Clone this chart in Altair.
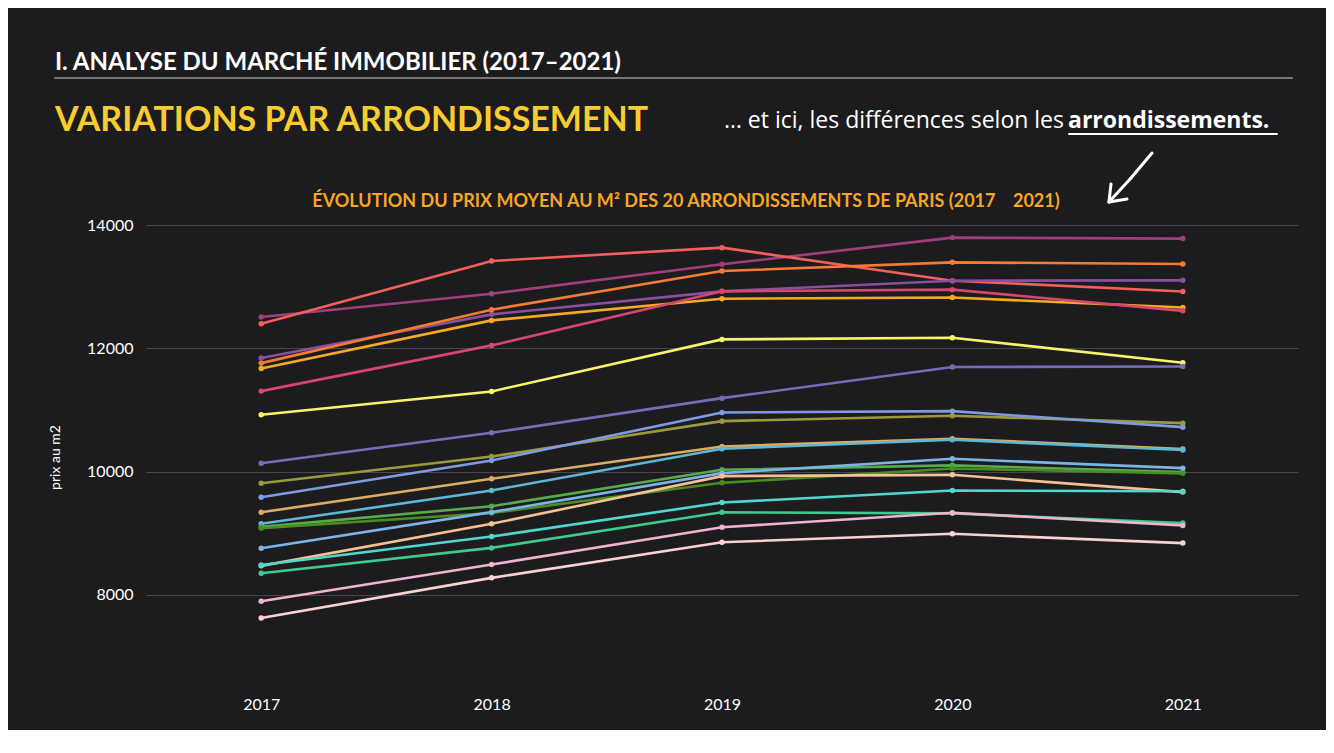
import altair as alt
import pandas as pd

years = ["2017", "2018", "2019", "2020", "2021"]

# prix moyen au m², une liste par courbe
s_magenta = [12509, 12889, 13366, 13800, 13784]
s_salmon = [12401, 13420, 13637, 13100, 12925]
s_purple = [11843, 12553, 12927, 13100, 13106]
s_orange = [11761, 12629, 13257, 13398, 13371]
s_gold = [11675, 12455, 12808, 12827, 12665]
s_rose = [11306, 12049, 12927, 12955, 12610]
s_yellow = [10922, 11301, 12146, 12174, 11767]
s_lavender = [10135, 10629, 11192, 11697, 11707]
s_olive = [9810, 10244, 10818, 10906, 10786]
s_periwinkle = [9582, 10179, 10959, 10981, 10721]
s_tan = [9338, 9881, 10406, 10532, 10366]
s_sky = [9150, 9691, 10369, 10515, 10350]
s_green = [9100, 9436, 10028, 10100, 9990]
s_darkgreen = [9080, 9325, 9816, 10050, 9970]
s_lightblue = [8753, 9340, 9973, 10206, 10055]
s_peach = [8467, 9150, 9925, 9946, 9665]
s_turquoise = [8480, 8943, 9496, 9691, 9680]
s_mint = [8346, 8759, 9338, 9320, 9162]
s_pink = [7891, 8488, 9094, 9330, 9124]
s_lightpink = [7621, 8272, 8850, 8988, 8837]

series_values = [s_magenta, s_salmon, s_purple, s_orange, s_gold, s_rose, s_yellow,
                 s_lavender, s_olive, s_periwinkle, s_tan, s_sky, s_green, s_darkgreen,
                 s_lightblue, s_peach, s_turquoise, s_mint, s_pink, s_lightpink]
series_names = [f"Courbe {i + 1}" for i in range(len(series_values))]
series_colors = ["#a13f7d", "#f2605d", "#8a4f9e", "#f47c30", "#f6aa22", "#d6466f", "#f7f36a",
                 "#7a6bb8", "#9a9a3c", "#7f9be0", "#dcac62", "#5db7d6", "#58aa4c", "#4b8c22",
                 "#7ab4e6", "#f5c193", "#4fd6cf", "#3ec98f", "#f1b3cf", "#fbd2d2"]

rows = []
for name, vals in zip(series_names, series_values):
    for y, v in zip(years, vals):
        rows.append({"annee": y, "prix": v, "serie": name})
df = pd.DataFrame(rows)

BG = "#1c1c1e"
W, H = 1152, 477

color = alt.Color("serie:N", scale=alt.Scale(domain=series_names, range=series_colors), legend=None)
xenc = alt.X("annee:O", scale=alt.Scale(type="point", padding=0.5),
             axis=alt.Axis(title=None, labelAngle=0, labelFontSize=16, labelColor="white",
                           labelFont="Lato", ticks=False, domain=False, grid=False, labelPadding=6))
yenc = alt.Y("prix:Q", scale=alt.Scale(domain=[6450, 14200], nice=False, zero=False),
             axis=alt.Axis(title="prix au m2", values=[8000, 10000, 12000, 14000], format="d",
                           labelFontSize=16, labelColor="white", labelFont="Lato",
                           labelPadding=13, ticks=False, domain=False,
                           grid=True, gridColor="#48484c", gridWidth=1,
                           titleColor="white", titleFont="Lato", titleFontSize=14,
                           titleFontWeight="normal", titleX=-91, titleY=244, titleAngle=270,
                           titleAlign="center", titleBaseline="middle"))

base = alt.Chart(df)
lines = base.mark_line(strokeWidth=2.6).encode(x=xenc, y=yenc, color=color, detail="serie:N")
points = base.mark_circle(size=30, opacity=1).encode(x="annee:O", y="prix:Q", color=color)

one = pd.DataFrame({"k": [0]})


def txt(text, x, y, size, col, weight="normal", align="left", font="Lato", baseline="alphabetic"):
    return alt.Chart(one).mark_text(
        text=text, fontSize=size, color=col, fontWeight=weight, align=align,
        baseline=baseline, font=font
    ).encode(x=alt.value(x), y=alt.value(y))


def seg(x1, y1, x2, y2, col, w):
    return alt.Chart(one).mark_rule(color=col, strokeWidth=w, strokeCap="round").encode(
        x=alt.value(x1), x2=alt.value(x2), y=alt.value(y1), y2=alt.value(y2))


NB = "\u00a0"
heading1 = txt("I. ANALYSE DU MARCHÉ IMMOBILIER (2017–2021)", -91, -143, 24, "white", "bold")
hr = seg(-91, -135, 1146, -135, "#77777a", 2)
heading2 = txt("VARIATIONS PAR ARRONDISSEMENT", -91, -82, 34, "#f7cc2e", "bold")
sub1 = txt("… et ici, les différences selon les" + NB, 918, -85, 23, "white", "normal", "right", "Open Sans")
sub2 = txt("arrondissements.", 922, -85, 23, "white", "bold", "left", "Open Sans")
underline = seg(923, -79, 1131, -79, "white", 2)
ctitle = txt("ÉVOLUTION DU PRIX MOYEN AU M² DES 20 ARRONDISSEMENTS DE PARIS (2017" + NB * 4 + "2021)",
             540, -6, 18, "#f5a623", "bold", "center")
arrow1 = seg(1006, -60, 985, -35, "white", 3)
arrow2 = seg(985, -35, 963, -11, "white", 3)
arrow3 = seg(963, -11, 965, -29, "white", 3)
arrow4 = seg(963, -11, 981, -14, "white", 3)

chart = alt.layer(
    lines, points, heading1, hr, heading2, sub1, sub2, underline, ctitle,
    arrow1, arrow2, arrow3, arrow4
).properties(
    width=W, height=H,
    padding={"left": 138, "top": 205, "right": 28, "bottom": 40},
    autosize=alt.AutoSizeParams(type="none"),
    background=BG,
).configure_view(stroke=None)

chart.save("out.html", embed_options={"renderer": "svg", "actions": False})
